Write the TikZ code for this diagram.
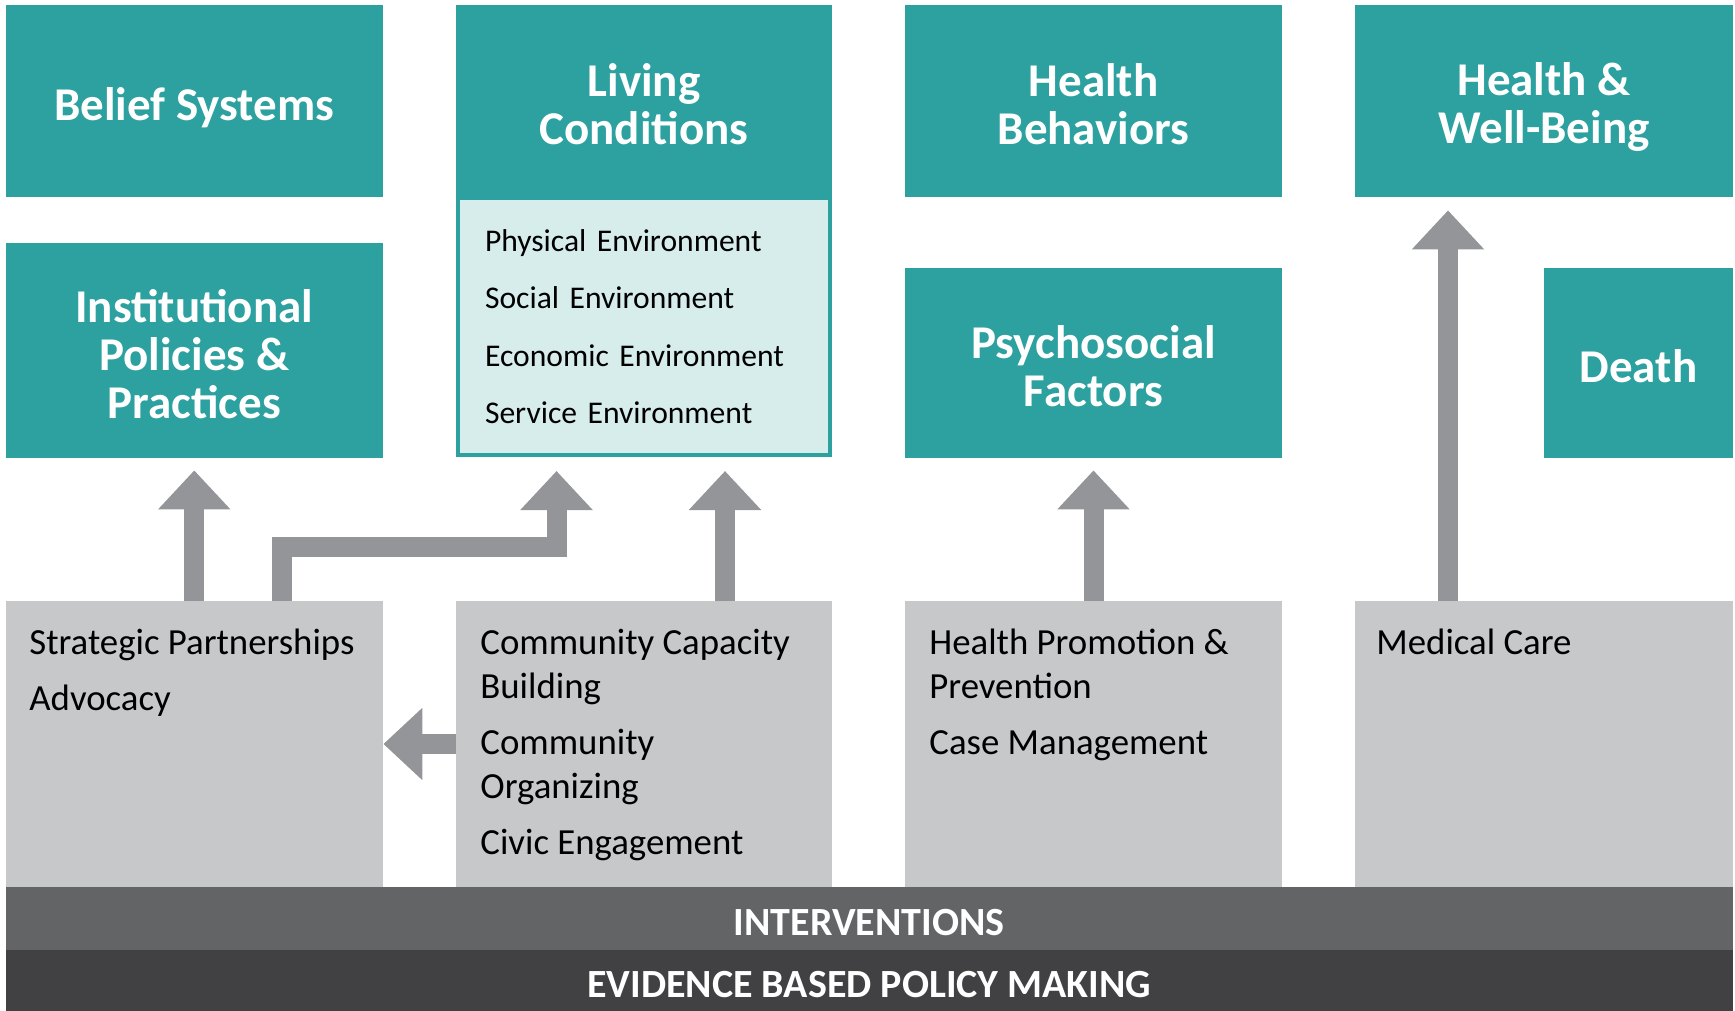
\documentclass[tikz,border=0pt]{standalone}
\usepackage{fontspec}
\setmainfont{Carlito}
\usetikzlibrary{arrows.meta}

\definecolor{hdteal}{HTML}{2CA1A0}
\definecolor{envfill}{HTML}{D6EDEC}
\definecolor{actgray}{HTML}{C7C8CA}
\definecolor{arrgray}{HTML}{939598}
\definecolor{intgray}{HTML}{636466}
\definecolor{ebgray}{HTML}{414143}

\begin{document}
\begin{tikzpicture}[
    x=0.5pt,
    y=-0.5pt,
    header/.style={
        fill=hdteal,
        inner sep=0pt,
        minimum width=188.75pt,
        minimum height=95.75pt
    },
    headtxt/.style={
        text=white,
        inner sep=0pt,
        align=center,
        yshift=-1.6pt,
        font=\fontsize{23.5}{24}\selectfont\bfseries
    },
    envlist/.style={
        fill=envfill,
        draw=hdteal,
        line width=2pt,
        inner xsep=13.5pt,
        text width=159pt,
        minimum height=128.5pt,
        align=left,
        font=\fontsize{15.8}{28.75}\selectfont
    },
    action/.style={
        fill=actgray,
        inner sep=0pt,
        minimum width=188.75pt,
        minimum height=143pt
    },
    acttxt/.style={
        anchor=north west,
        inner sep=0pt,
        align=left,
        font=\fontsize{18.4}{22}\selectfont
    },
    band/.style={
        inner sep=0pt,
        text=white,
        text height=17.3pt,
        text depth=0pt,
        minimum width=863.75pt,
        font=\fontsize{20}{20}\selectfont\bfseries
    },
    blockarrow/.style={
        draw=arrgray,
        line width=10pt,
        line join=miter,
        -{Triangle[width=35pt, length=19.5pt]}
    }
]
\useasboundingbox (0,0) rectangle (1735,1011);

% ============================================================
% DETERMINANTS (upper rows)
% ============================================================
\node[header] (belief) at ( 194.25, 101.25) {};
\node[header] (living) at ( 644.00, 101.25) [minimum width=188pt] {};
\node[header] (hb)     at (1093.50, 101.25) {};
\node[header] (hwb)    at (1544.00, 101.25) {};

\node[envlist] (lclist) at (644, 326.5)
    {Physical Environment\\Social Environment\\Economic Environment\\Service Environment};

\node[header] (inst)   at ( 194.25, 350.5) [minimum height=107.5pt] {};
\node[header] (psy)    at (1093.50, 363.0) [minimum height=95pt] {};
\node[header] (death)  at (1638.50, 363.0) [minimum width=94.5pt, minimum height=95pt] {};

% descenders in the last line: pushed a bit lower
\node[headtxt] (belieftxt) at (belief) [yshift=-1.5pt] {Belief Systems};
\node[headtxt] (livingtxt) at (living) {Living\\Conditions};
\node[headtxt] (hbtxt)     at (hb)     {Health\\Behaviors};
\node[headtxt] (hwbtxt)    at (hwb)    [yshift=-1.5pt] {Health \&\\Well-Being};
\node[headtxt] (insttxt)   at (inst)   {Institutional\\Policies \&\\Practices};
\node[headtxt] (psytxt)    at (psy)    {Psychosocial\\Factors};
\node[headtxt] (deathtxt)  at (death)  {Death};

% ============================================================
% INTERVENTIONS (grey boxes)
% ============================================================
\node[action] (sp) at ( 194.25, 744) {};
\node[action] (cc) at ( 644.00, 744) [minimum width=188pt] {};
\node[action] (hp) at (1093.50, 744) {};
\node[action] (mc) at (1544.00, 744) {};

% first baseline at y=653 (strut height 15.4pt)
\node[acttxt] (sptxt) at (  29, 623) {\strut Strategic Partnerships\\[6pt]Advocacy};
\node[acttxt] (cctxt) at ( 480, 623) {\strut Community Capacity\\Building\\[6pt]Community\\Organizing\\[6pt]Civic Engagement};
\node[acttxt] (hptxt) at ( 929, 623) {\strut Health Promotion \&\\Prevention\\[6pt]Case Management};
\node[acttxt] (mctxt) at (1376, 623) {\strut Medical Care};

% bottom bands
\node[band, fill=intgray, minimum height=31.5pt] (int)  at (869.25, 918.5) {INTERVENTIONS};
\node[band, fill=ebgray,  minimum height=30.5pt] (ebpm) at (869.25, 980.5) {EVIDENCE BASED POLICY MAKING};

% ============================================================
% ARROWS
% ============================================================
\draw[blockarrow, shorten >=6pt] (sp.north) -- (inst.south);
\draw[blockarrow, shorten >=7pt] ([xshift=44pt]sp.north) -- ++(0,-53.5) -| ([xshift=-43.75pt]lclist.south);
\draw[blockarrow, shorten >=7pt] ([xshift=40.5pt]cc.north) -- ([xshift=40.5pt]lclist.south);
\draw[blockarrow] (cc.west) -- (sp.east);
\draw[blockarrow, shorten >=6pt] (hp.north) -- (psy.south);
\draw[blockarrow, shorten >=6.5pt] ([xshift=-48pt]mc.north) -- ([xshift=-48pt]hwb.south);

\end{tikzpicture}
\end{document}
